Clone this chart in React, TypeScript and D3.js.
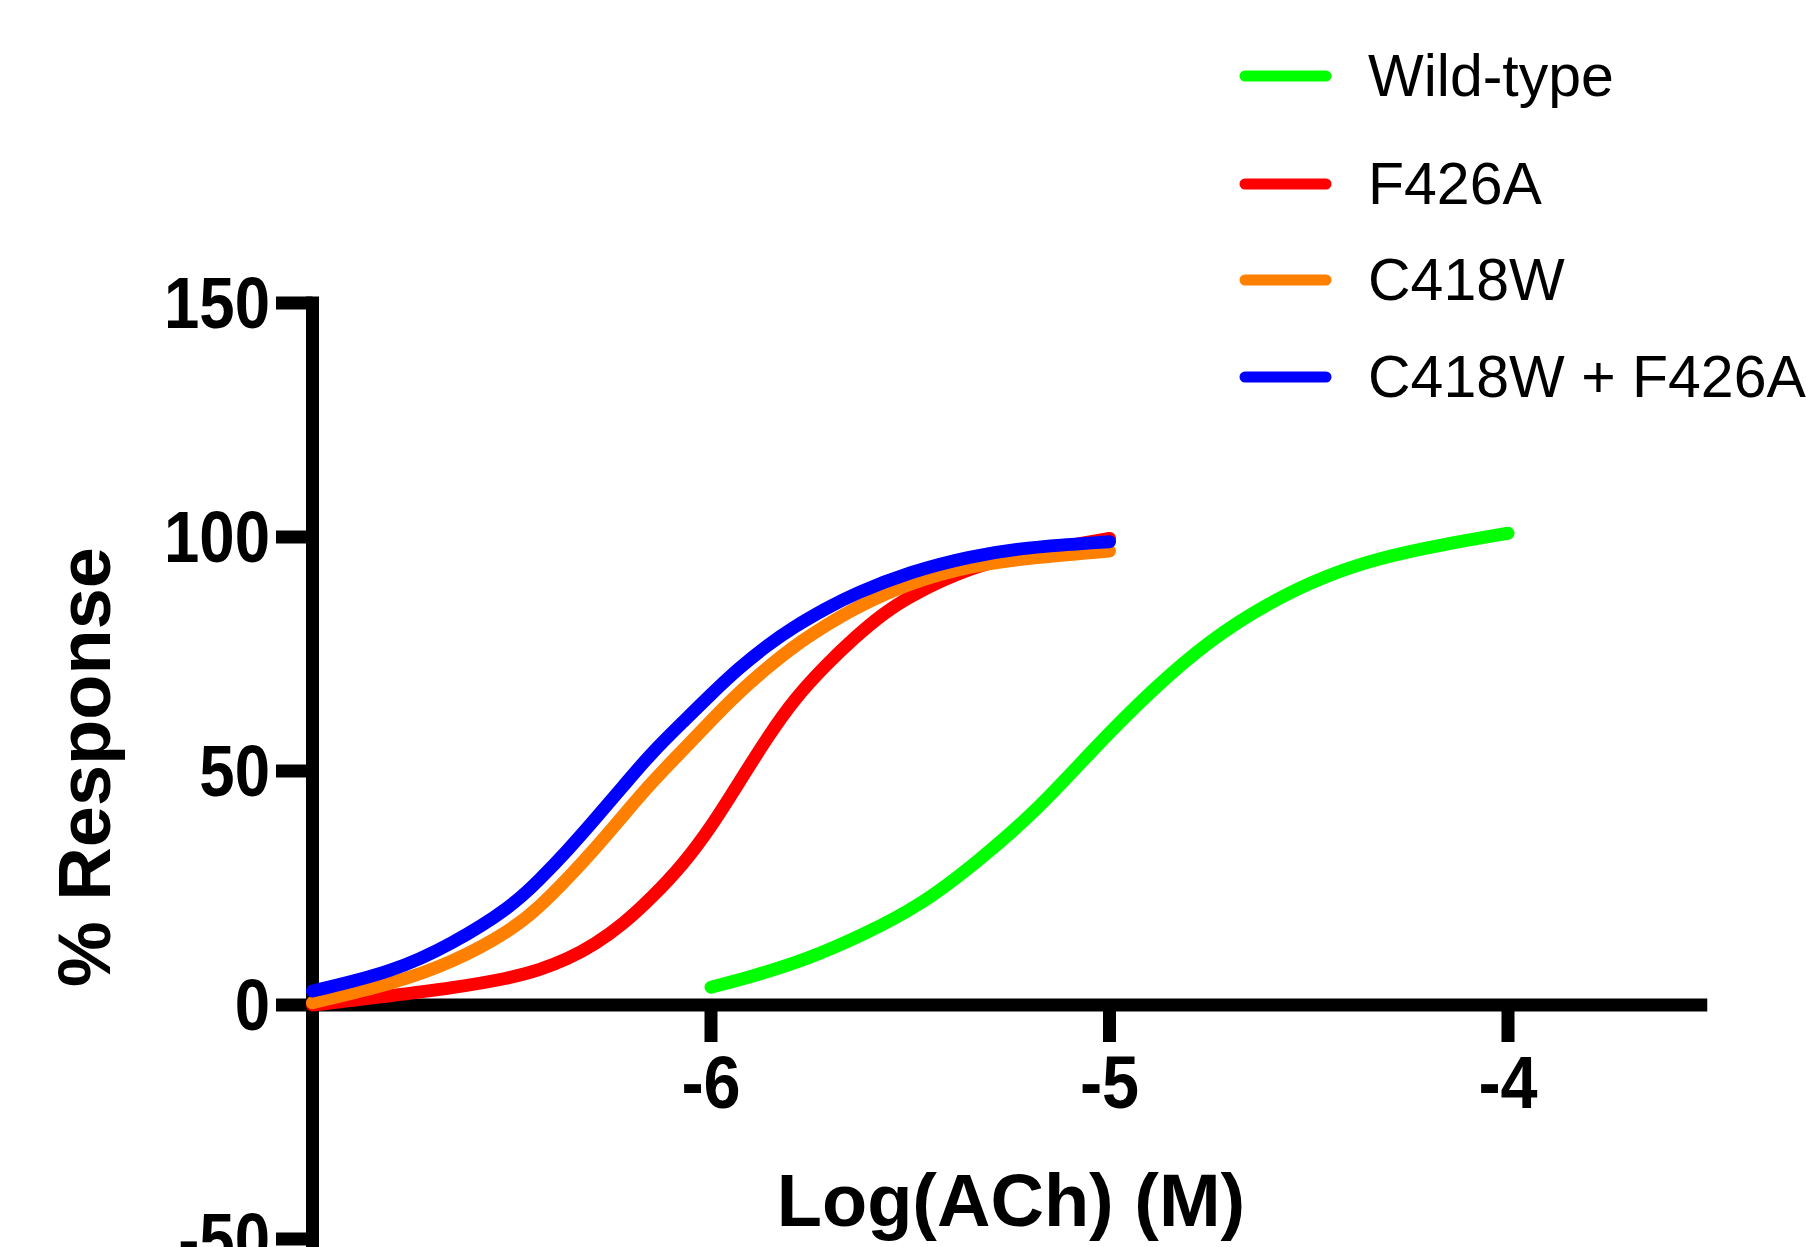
import React from "react";
import * as d3 from "d3";

const W = 1806;
const H = 1247;

const xTickValues = [-6, -5, -4];
const yTickValues = [150, 100, 50, 0, -50];

const seriesNames = ["Wild-type", "F426A", "C418W", "C418W + F426A"];
const seriesColors = ["#00ff00", "#ff0000", "#ff8000", "#0000ff"];

const wildTypeX = [-6.0, -5.9, -5.76, -5.62, -5.47, -5.33, -5.18, -5.04, -4.89, -4.75, -4.6, -4.46, -4.32, -4.17, -4.0];
const wildTypeY = [3.8, 6.0, 9.7, 14.9, 21.5, 30.7, 41.7, 54.8, 67.6, 77.9, 86.0, 91.7, 95.6, 98.3, 100.8];

const f426aX = [-7, -6.8, -6.65, -6.5, -6.43, -6.36, -6.29, -6.22, -6.15, -6.07, -6.0, -5.93, -5.86, -5.79, -5.71, -5.64, -5.57, -5.5, -5.35, -5.21, -5.0];
const f426aY = [0, 2.0, 3.6, 5.8, 7.5, 9.8, 13.0, 17.3, 22.8, 30.0, 38.0, 47.5, 57.0, 65.5, 72.8, 78.5, 83.5, 87.5, 93.5, 96.5, 99.7];

const c418wX = [-7, -6.8, -6.65, -6.5, -6.43, -6.36, -6.29, -6.22, -6.15, -6.07, -6.0, -5.93, -5.86, -5.79, -5.71, -5.64, -5.5, -5.35, -5.21, -5.0];
const c418wY = [0.5, 4.5, 9.0, 16.0, 21.0, 27.0, 33.5, 40.5, 47.5, 54.5, 60.8, 66.8, 72.0, 76.8, 81.2, 84.8, 90.3, 93.8, 95.5, 97.0];

const doubleX = [-7, -6.8, -6.65, -6.5, -6.43, -6.36, -6.29, -6.22, -6.15, -6.07, -6.0, -5.93, -5.86, -5.79, -5.71, -5.64, -5.5, -5.35, -5.21, -5.0];
const doubleY = [3, 7.0, 13.0, 21.0, 26.8, 33.0, 39.8, 46.8, 53.8, 60.5, 66.4, 72.0, 76.8, 80.9, 84.8, 87.9, 92.6, 95.9, 97.8, 99.0];

const seriesXs = [wildTypeX, f426aX, c418wX, doubleX];
const seriesYs = [wildTypeY, f426aY, c418wY, doubleY];
const legendYs = [76, 184, 280, 377];

export default function App() {
  const x = d3.scaleLinear().domain([-7, -3.5]).range([312.5, 1707.25]);
  const y = d3.scaleLinear().domain([0, 150]).range([1005, 303]);

  const line = d3
    .line<[number, number]>()
    .x((d) => x(d[0]))
    .y((d) => y(d[1]))
    .curve(d3.curveBasis);

  const font = "'Liberation Sans', Arial, Helvetica, sans-serif";
  const axisW = 13;
  const drawOrder = [0, 1, 2, 3];

  return (
    <svg
      width={W}
      height={H}
      style={{ position: "absolute", left: 0, top: 0, background: "#fff" }}
    >
      <rect x={0} y={0} width={W} height={H} fill="#fff" />
      {/* y axis */}
      <line x1={x(-7)} x2={x(-7)} y1={y(150) - axisW / 2} y2={H} stroke="#000" strokeWidth={axisW} />
      {yTickValues.map((t) => (
        <g key={"yt" + t}>
          <line x1={276} x2={x(-7)} y1={y(t)} y2={y(t)} stroke="#000" strokeWidth={axisW} />
          <g transform={`translate(270,${y(t) + 25}) scale(0.87,1)`}>
            <text
              x={0}
              y={0}
              textAnchor="end"
              fontFamily={font}
              fontWeight="bold"
              fontSize={73}
              fill="#000"
            >
              {t}
            </text>
          </g>
        </g>
      ))}
      {/* x axis */}
      <line x1={x(-7) - axisW / 2} x2={x(-3.5)} y1={y(0)} y2={y(0)} stroke="#000" strokeWidth={axisW} />
      {xTickValues.map((t) => (
        <g key={"xt" + t}>
          <line x1={x(t)} x2={x(t)} y1={y(0)} y2={1042} stroke="#000" strokeWidth={axisW} />
          <g transform={`translate(${x(t)},1108) scale(0.9,1)`}>
            <text
              x={0}
              y={0}
              textAnchor="middle"
              fontFamily={font}
              fontWeight="bold"
              fontSize={74}
              fill="#000"
            >
              {t}
            </text>
          </g>
        </g>
      ))}
      {/* curves */}
      {drawOrder.map((i) => {
        const pts: [number, number][] = seriesXs[i].map((v, k) => [v, seriesYs[i][k]]);
        return (
          <path
            key={"s" + i}
            d={line(pts) || ""}
            fill="none"
            stroke={seriesColors[i]}
            strokeWidth={13}
            strokeLinecap="round"
            strokeLinejoin="round"
          />
        );
      })}
      {/* axis titles */}
      <text
        x={1011}
        y={1226}
        textAnchor="middle"
        fontFamily={font}
        fontWeight="bold"
        fontSize={74}
        fill="#000"
      >
        Log(ACh) (M)
      </text>
      <text
        transform={`translate(110,767) rotate(-90)`}
        textAnchor="middle"
        fontFamily={font}
        fontWeight="bold"
        fontSize={74}
        fill="#000"
      >
        % Response
      </text>
      {/* legend */}
      {seriesNames.map((name, i) => (
        <g key={"lg" + i}>
          <line
            x1={1245}
            x2={1326}
            y1={legendYs[i]}
            y2={legendYs[i]}
            stroke={seriesColors[i]}
            strokeWidth={11}
            strokeLinecap="round"
          />
          <text
            x={1368}
            y={legendYs[i] + 20}
            fontFamily={font}
            fontSize={59}
            fill="#000"
          >
            {name}
          </text>
        </g>
      ))}
    </svg>
  );
}
